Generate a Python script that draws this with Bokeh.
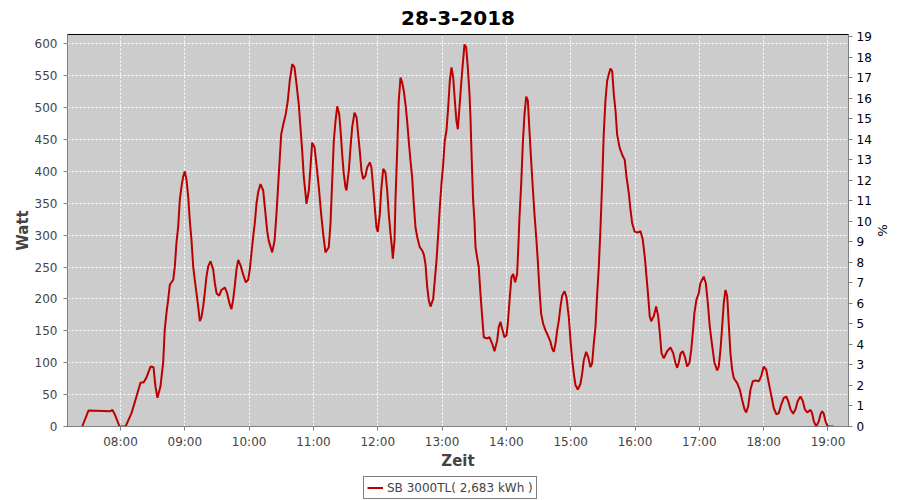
from bokeh.plotting import figure
from bokeh.models import (Range1d, LinearAxis, FixedTicker, Legend, LegendItem, ColumnDataSource)
from bokeh.layouts import column
from bokeh.embed import file_html
from bokeh.resources import INLINE

title_text = "28-3-2018"
series_name = "SB 3000TL( 2,683 kWh )"
x_label = "Zeit"
y_label = "Watt"
y2_label = "%"

# time in minutes after midnight, power in W
minutes = [444.3, 450.1, 470.7, 472.5, 474.4, 479.1, 484.7, 490.3, 494.9, 498.7, 501.5, 504.3, 508.0, 510.8, 512.6, 514.5, 517.3, 519.8, 521.3, 522.9,
           524.5, 526.0, 529.2, 530.7, 532.2, 533.8, 535.3, 536.9, 538.5, 540.0, 541.6, 543.2, 544.6, 546.2, 547.8, 549.3, 550.9, 552.5, 554.0, 555.6,
           557.1, 558.6, 560.2, 561.8, 564.0, 566.5, 568.0, 569.6, 572.1, 574.2, 577.3, 579.5, 582.0, 583.5, 585.1, 586.6, 588.2, 589.8, 591.9, 594.5,
           596.9, 599.1, 600.6, 602.2, 603.8, 605.3, 606.9, 608.5, 610.6, 613.1, 615.3, 616.8, 618.3, 621.5, 623.7, 625.5, 627.7, 629.9, 632.3, 634.2,
           636.1, 637.9, 640.2, 642.3, 644.2, 646.3, 647.9, 649.5, 651.0, 652.6, 653.5, 655.7, 657.2, 658.8, 661.0, 662.8, 665.0, 667.2, 669.1, 671.2,
           674.3, 675.9, 677.5, 679.0, 680.6, 682.2, 684.0, 685.3, 686.8, 688.3, 689.9, 690.8, 693.0, 694.6, 696.1, 698.3, 700.2, 701.7, 703.2, 704.8,
           706.4, 708.5, 710.1, 712.6, 714.1, 715.7, 717.2, 718.8, 720.0, 721.9, 723.2, 725.1, 727.2, 728.8, 730.3, 731.9, 733.5, 734.0, 735.6, 736.5,
           738.1, 739.6, 741.2, 742.8, 744.3, 745.9, 747.4, 748.9, 750.5, 752.1, 753.6, 755.2, 756.8, 759.2, 761.4, 762.9, 764.5, 766.1, 767.6, 769.2,
           771.7, 773.2, 774.8, 776.4, 777.9, 779.4, 781.0, 782.5, 784.1, 785.7, 787.2, 788.8, 790.4, 791.9, 793.4, 794.7, 796.2, 797.8, 799.3, 800.9,
           802.5, 804.0, 805.6, 806.5, 807.2, 808.1, 809.0, 810.2, 811.2, 812.7, 814.2, 815.8, 817.4, 818.9, 822.1, 824.2, 826.7, 828.9, 831.4, 832.9,
           834.5, 836.1, 838.2, 840.1, 841.3, 843.2, 844.7, 846.3, 848.2, 850.0, 851.0, 852.2, 853.8, 855.3, 856.9, 858.5, 860.0, 861.5, 863.1, 864.6,
           866.2, 867.8, 869.3, 870.9, 872.4, 874.3, 876.4, 878.6, 881.1, 882.7, 884.2, 885.8, 887.4, 888.9, 890.4, 892.0, 894.2, 896.0, 898.2, 899.8,
           901.4, 902.9, 904.4, 906.6, 909.1, 910.7, 912.2, 914.4, 916.3, 918.4, 920.0, 921.5, 923.1, 924.7, 926.2, 927.8, 929.4, 930.8, 932.4, 934.0,
           935.5, 937.1, 938.7, 940.2, 941.8, 943.3, 945.5, 948.0, 950.4, 952.0, 954.2, 955.8, 957.3, 959.5, 962.0, 965.1, 967.2, 969.1, 970.7, 972.3,
           973.7, 975.1, 977.5, 979.7, 981.6, 983.1, 984.7, 986.8, 990.0, 993.1, 995.6, 997.7, 999.3, 1000.8, 1002.4, 1004.5, 1006.4, 1008.6, 1010.8, 1012.4,
           1013.9, 1015.4, 1017.3, 1019.5, 1021.0, 1024.1, 1026.0, 1027.9, 1029.7, 1032.0, 1034.1, 1036.6, 1038.1, 1039.7, 1041.3, 1042.8, 1044.4, 1046.0, 1047.4, 1049.0,
           1050.6, 1052.1, 1055.3, 1057.7, 1059.9, 1062.1, 1063.7, 1065.6, 1067.7, 1069.9, 1072.4, 1075.6, 1077.7, 1080.1, 1082.4, 1084.8, 1087.3, 1089.4, 1091.9, 1094.1,
           1096.3, 1098.8, 1101.0, 1102.9, 1105.0, 1107.5, 1109.7, 1111.8, 1114.3, 1116.5, 1118.4, 1120.6, 1123.7, 1125.2, 1126.8, 1129.0, 1131.4, 1133.0, 1134.6, 1136.1,
           1137.7, 1139.8, 1145.3]

watts = [0, 25, 24, 26, 20, 0, 0, 21, 47, 69, 69, 77, 94, 93, 63, 45, 63, 100, 152, 178,
         199, 222, 230, 251, 288, 313, 355, 376, 392, 400, 386, 360, 324, 293, 251, 230, 209, 188, 165, 172,
         188, 209, 235, 251, 259, 246, 225, 209, 205, 214, 218, 209, 191, 184, 199, 220, 246, 261, 253, 238,
         226, 230, 246, 272, 298, 319, 350, 368, 380, 370, 333, 307, 291, 273, 291, 333, 396, 458, 477, 490,
         511, 542, 568, 563, 537, 505, 469, 432, 391, 365, 349, 370, 406, 445, 438, 411, 375, 333, 302, 273,
         281, 318, 385, 448, 479, 502, 490, 464, 427, 396, 375, 370, 401, 438, 469, 492, 485, 458, 432, 401,
         388, 393, 406, 414, 406, 375, 344, 312, 305, 333, 370, 404, 398, 370, 333, 302, 276, 263, 291, 354,
         432, 511, 547, 539, 526, 505, 479, 448, 417, 391, 349, 312, 297, 281, 276, 270, 255, 219, 198, 188,
         200, 229, 260, 302, 344, 380, 411, 448, 464, 500, 542, 563, 547, 511, 479, 466, 500, 537, 568, 599,
         594, 563, 521, 485, 443, 396, 354, 323, 281, 265, 250, 208, 172, 140, 138, 140, 130, 118, 135, 156,
         164, 153, 140, 143, 161, 203, 234, 239, 226, 239, 276, 328, 380, 443, 490, 517, 511, 464, 417, 375,
         333, 297, 260, 213, 177, 161, 151, 143, 133, 122, 117, 130, 151, 166, 187, 205, 212, 203, 172, 135,
         104, 83, 65, 58, 67, 83, 104, 117, 109, 93, 99, 130, 156, 208, 250, 312, 385, 458, 511, 542,
         552, 561, 557, 521, 495, 458, 438, 426, 418, 392, 366, 339, 319, 306, 304, 306, 293, 266, 235, 204,
         173, 165, 173, 188, 173, 147, 115, 107, 118, 124, 115, 100, 92, 100, 114, 118, 110, 94, 100, 120,
         147, 178, 199, 209, 225, 235, 225, 194, 157, 126, 100, 88, 94, 120, 157, 194, 214, 204, 162, 115,
         89, 76, 68, 58, 42, 27, 22, 32, 58, 71, 72, 71, 79, 94, 89, 68, 47, 29, 19, 21,
         34, 45, 47, 40, 27, 20, 27, 40, 47, 40, 27, 22, 26, 21, 8, 0, 8, 19, 24, 20,
         8, 0, 0]

hour_ticks = [8, 9, 10, 11, 12, 13, 14, 15, 16, 17, 18, 19]
hour_labels = ["08:00", "09:00", "10:00", "11:00", "12:00", "13:00", "14:00", "15:00", "16:00", "17:00", "18:00", "19:00"]
watt_ticks = [0, 50, 100, 150, 200, 250, 300, 350, 400, 450, 500, 550, 600]
pct_ticks = list(range(0, 20))

assert len(minutes) == len(watts), (len(minutes), len(watts))

hours = [m / 60.0 for m in minutes]
src = ColumnDataSource(data=dict(h=hours, w=watts))

FONT = "DejaVu Sans"
LINE_COLOR = "#BB0000"

p = figure(output_backend="svg", toolbar_location=None,
           width=900, height=472,
           min_border_left=67, min_border_right=52, min_border_top=34, min_border_bottom=45,
           x_range=Range1d(7.176, 19.319), y_range=Range1d(0, 614.5),
           background_fill_color="#CCCCCC", border_fill_color="white",
           outline_line_color="black", outline_line_width=1)

p.title.text = title_text
p.title.align = "center"
p.title.vertical_align = "middle"
p.title.text_font = FONT
p.title.text_font_size = "20px"
p.title.text_font_style = "bold"
p.title.text_color = "black"
p.title.standoff = 17
p.title.offset = -8

# axes
xa = p.xaxis[0]
xa.ticker = FixedTicker(ticks=hour_ticks)
xa.major_label_overrides = {t: l for t, l in zip(hour_ticks, hour_labels)}
ya = p.yaxis[0]
ya.ticker = FixedTicker(ticks=watt_ticks)

for ax in (xa, ya):
    ax.axis_line_color = "#808080"
    ax.major_tick_line_color = "#808080"
    ax.major_tick_out = 4
    ax.major_tick_in = 0
    ax.minor_tick_line_color = None
    ax.major_label_text_font = FONT
    ax.major_label_text_font_size = "12px"
    ax.major_label_text_color = "#444444"
    ax.axis_label_text_font = FONT
    ax.axis_label_text_font_size = "15px"
    ax.axis_label_text_font_style = "bold"
    ax.axis_label_text_color = "#444444"

xa.axis_label = x_label
xa.major_label_standoff = 4
xa.axis_label_standoff = 0
ya.axis_label = y_label
ya.major_label_standoff = 6
ya.axis_label_standoff = 0

p.extra_y_ranges = {"pct": Range1d(0, 19.1)}
ra = LinearAxis(y_range_name="pct", ticker=FixedTicker(ticks=pct_ticks), axis_label=y2_label)
ra.axis_line_color = "#808080"
ra.major_tick_line_color = "#808080"
ra.major_tick_out = 4
ra.major_tick_in = 0
ra.minor_tick_line_color = None
ra.major_label_standoff = 4
ra.major_label_text_font = FONT
ra.major_label_text_font_size = "12px"
ra.major_label_text_color = "black"
ra.axis_label_text_font = FONT
ra.axis_label_text_font_size = "13px"
ra.axis_label_text_font_style = "normal"
ra.axis_label_text_color = "black"
ra.axis_label_standoff = 0
p.add_layout(ra, "right")

# grid
for g in (p.xgrid[0], p.ygrid[0]):
    g.grid_line_color = "white"
    g.grid_line_dash = "2 2"
    g.grid_line_width = 1
p.ygrid[0].ticker = FixedTicker(ticks=watt_ticks)
p.xgrid[0].ticker = FixedTicker(ticks=hour_ticks)

p.line("h", "w", source=src, line_color=LINE_COLOR, line_width=2)

# legend strip below the chart (its ranges keep the series out of view; only the legend shows)
lg = figure(output_backend="svg", toolbar_location=None, width=900, height=28,
            min_border=0, x_axis_location=None, y_axis_location=None,
            x_range=Range1d(0, 1), y_range=Range1d(-2, -1),
            outline_line_color=None, background_fill_color="white", border_fill_color="white")
lg.xgrid.visible = False
lg.ygrid.visible = False
lr = lg.line("h", "w", source=src, line_color=LINE_COLOR, line_width=2)
legend = Legend(items=[LegendItem(label=series_name, renderers=[lr])],
                location=(296, 1), orientation="horizontal",
                border_line_color="black", border_line_width=1,
                background_fill_color="white", background_fill_alpha=1,
                label_text_font=FONT, label_text_font_size="12px", label_text_color="#444444",
                glyph_width=16, glyph_height=15, label_height=15, label_standoff=4,
                padding=3, margin=0, spacing=0)
lg.add_layout(legend)

layout = column(p, lg, spacing=0)
open("out.html", "w").write(file_html(layout, INLINE))
